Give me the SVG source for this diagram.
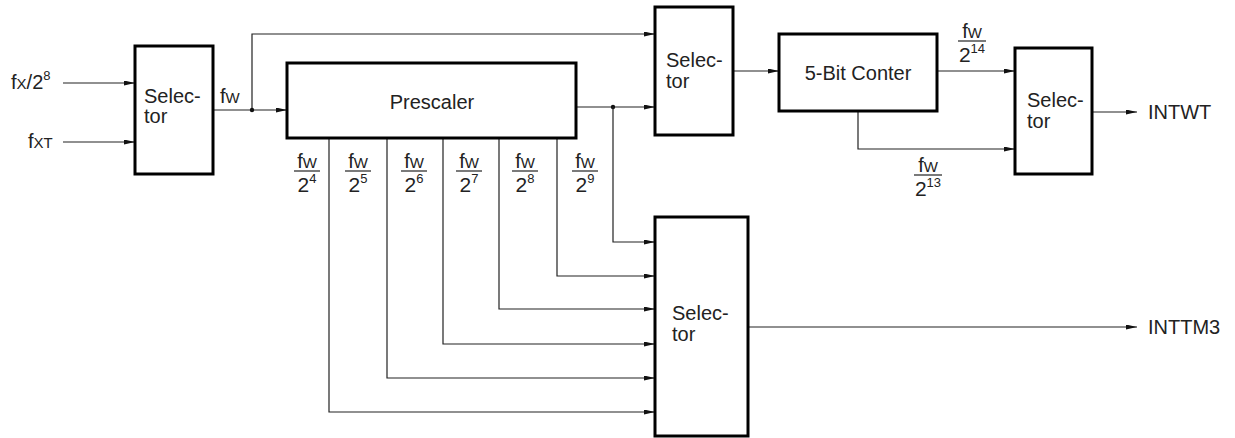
<svg xmlns="http://www.w3.org/2000/svg" width="1235" height="438" viewBox="0 0 1235 438">
<style>
.box{fill:#fff;stroke:#000;stroke-width:3}
.ln{fill:none;stroke:#222;stroke-width:1.2}
.ar{marker-end:url(#arr)}
text{font-family:"Liberation Sans",Arial,sans-serif;fill:#222}
.t{font-size:20px}
.ml{font-size:20px}
.sm{font-size:15px}
.nm{font-size:20px}
.dn{font-size:21px}
.sp{font-size:13px}
.fl{stroke:#222;stroke-width:1.2}
</style>
<defs>
<marker id="arr" markerWidth="11" markerHeight="6" refX="11" refY="2.5" orient="auto" markerUnits="userSpaceOnUse">
<path d="M0,0 L11,2.5 L0,5 z" fill="#111"/>
</marker>
</defs>

<g id="connectors">
<path class="ln ar" d="M63,83 H135"/>
<path class="ln ar" d="M63,142 H135"/>
<path class="ln ar" d="M213,110 H287"/>
<path class="ln ar" d="M252,110 V34 H655"/>
<circle cx="252" cy="110" r="2.2" fill="#111"/>
<path class="ln ar" d="M576,107 H655"/>
<circle cx="613" cy="107" r="2.2" fill="#111"/>
<path class="ln ar" d="M613,107 V242 H655"/>
<path class="ln ar" d="M557,138 V276 H655"/>
<path class="ln ar" d="M499,138 V309 H655"/>
<path class="ln ar" d="M443,138 V344 H655"/>
<path class="ln ar" d="M387,138 V378 H655"/>
<path class="ln ar" d="M329,138 V412 H655"/>
<path class="ln ar" d="M733,71 H779"/>
<path class="ln ar" d="M937,71 H1015"/>
<path class="ln ar" d="M858,111 V149 H1015"/>
<path class="ln ar" d="M1092,112 H1137"/>
<path class="ln ar" d="M748,327 H1137"/>
</g>

<g id="inputs">
<text x="11" y="89" class="ml">f<tspan class="sm">X</tspan>/2<tspan class="sp" dy="-9">8</tspan></text>
<text x="28" y="148" class="ml">f<tspan class="sm">XT</tspan></text>
<text x="220" y="103" class="ml">f<tspan class="sm">W</tspan></text>
</g>

<g id="selector1">
<rect class="box" x="135" y="46" width="78" height="128"/>
<text x="144" y="103" class="t">Selec-</text>
<text x="144" y="123" class="t">tor</text>
</g>

<g id="prescaler">
<rect class="box" x="287" y="63" width="289" height="75"/>
<text x="432" y="109" class="t" text-anchor="middle">Prescaler</text>
</g>

<g id="prescaler-taps">
<g transform="translate(307,168)">
<text x="0" y="0" class="nm" text-anchor="middle">f<tspan class="sm">W</tspan></text>
<line class="fl" x1="-13" y1="3" x2="13" y2="3"/>
<text x="0" y="24" class="dn" text-anchor="middle">2<tspan class="sp" dy="-9">4</tspan></text>
</g>
<g transform="translate(358,168)">
<text x="0" y="0" class="nm" text-anchor="middle">f<tspan class="sm">W</tspan></text>
<line class="fl" x1="-13" y1="3" x2="13" y2="3"/>
<text x="0" y="24" class="dn" text-anchor="middle">2<tspan class="sp" dy="-9">5</tspan></text>
</g>
<g transform="translate(414,168)">
<text x="0" y="0" class="nm" text-anchor="middle">f<tspan class="sm">W</tspan></text>
<line class="fl" x1="-13" y1="3" x2="13" y2="3"/>
<text x="0" y="24" class="dn" text-anchor="middle">2<tspan class="sp" dy="-9">6</tspan></text>
</g>
<g transform="translate(469,168)">
<text x="0" y="0" class="nm" text-anchor="middle">f<tspan class="sm">W</tspan></text>
<line class="fl" x1="-13" y1="3" x2="13" y2="3"/>
<text x="0" y="24" class="dn" text-anchor="middle">2<tspan class="sp" dy="-9">7</tspan></text>
</g>
<g transform="translate(525,168)">
<text x="0" y="0" class="nm" text-anchor="middle">f<tspan class="sm">W</tspan></text>
<line class="fl" x1="-13" y1="3" x2="13" y2="3"/>
<text x="0" y="24" class="dn" text-anchor="middle">2<tspan class="sp" dy="-9">8</tspan></text>
</g>
<g transform="translate(585,168)">
<text x="0" y="0" class="nm" text-anchor="middle">f<tspan class="sm">W</tspan></text>
<line class="fl" x1="-13" y1="3" x2="13" y2="3"/>
<text x="0" y="24" class="dn" text-anchor="middle">2<tspan class="sp" dy="-9">9</tspan></text>
</g>
</g>

<g id="selector2">
<rect class="box" x="655" y="7" width="78" height="128"/>
<text x="666" y="67" class="t">Selec-</text>
<text x="666" y="88" class="t">tor</text>
</g>

<g id="counter">
<rect class="box" x="779" y="34" width="158" height="77"/>
<text x="858" y="80" class="t" text-anchor="middle">5-Bit Conter</text>
</g>

<g id="counter-labels">
<g transform="translate(972,38)">
<text x="0" y="0" class="nm" text-anchor="middle">f<tspan class="sm">W</tspan></text>
<line class="fl" x1="-14" y1="3" x2="14" y2="3"/>
<text x="0" y="24" class="dn" text-anchor="middle">2<tspan class="sp" dy="-9">14</tspan></text>
</g>
<g transform="translate(928,172)">
<text x="0" y="0" class="nm" text-anchor="middle">f<tspan class="sm">W</tspan></text>
<line class="fl" x1="-14" y1="3" x2="14" y2="3"/>
<text x="0" y="24" class="dn" text-anchor="middle">2<tspan class="sp" dy="-9">13</tspan></text>
</g>
</g>

<g id="selector3">
<rect class="box" x="1015" y="48" width="77" height="126"/>
<text x="1027" y="107" class="t">Selec-</text>
<text x="1027" y="128" class="t">tor</text>
</g>

<g id="selector4">
<rect class="box" x="655" y="217" width="93" height="219"/>
<text x="672" y="320" class="t">Selec-</text>
<text x="672" y="341" class="t">tor</text>
</g>

<g id="outputs">
<text x="1148" y="119" class="t">INTWT</text>
<text x="1148" y="334" class="t">INTTM3</text>
</g>
</svg>
